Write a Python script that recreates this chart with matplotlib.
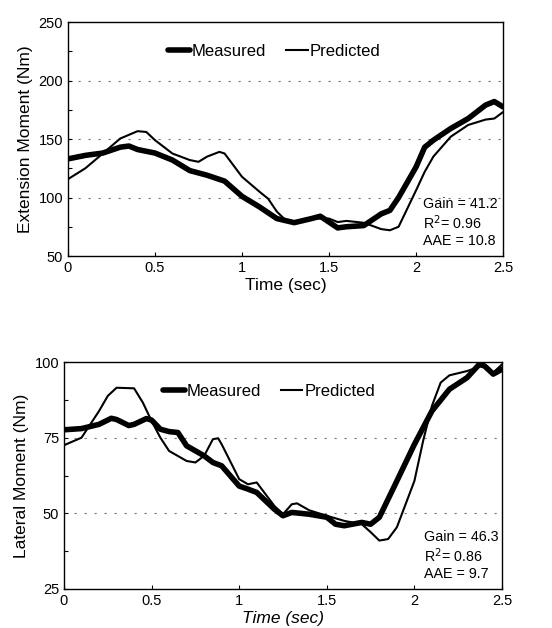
import matplotlib
matplotlib.use("Agg")
import matplotlib.pyplot as plt
from matplotlib.ticker import MultipleLocator

plt.rcParams['font.family'] = ['Liberation Sans', 'DejaVu Sans']

# ---- Top panel: extension moment ----
t_ext_meas = [0, 0.1, 0.2, 0.3, 0.35, 0.4, 0.5, 0.6, 0.7, 0.8, 0.9, 1.0, 1.1, 1.2, 1.3,
              1.4, 1.45, 1.5, 1.55, 1.6, 1.7, 1.8, 1.85, 1.9, 2.0, 2.05, 2.1, 2.2, 2.3,
              2.4, 2.45, 2.5]
ext_meas = [133, 136, 138, 143, 144, 141, 138, 132, 123, 119, 114, 101, 92, 82, 78.5,
            82, 84, 79, 74, 75, 76, 86, 89, 100, 126, 143, 149, 159, 167.5,
            179, 182, 177.5]
t_ext_pred = [0, 0.1, 0.2, 0.3, 0.4, 0.45, 0.5, 0.6, 0.7, 0.75, 0.8, 0.87, 0.9, 1.0,
              1.1, 1.15, 1.2, 1.25, 1.3, 1.4, 1.5, 1.55, 1.6, 1.7, 1.8, 1.85, 1.9,
              2.0, 2.05, 2.1, 2.2, 2.3, 2.4, 2.45, 2.5]
ext_pred = [115.7, 125, 137.6, 150.4, 156.7, 156, 149, 137.6, 132, 130.5, 135, 139, 137.6,
            117.7, 105, 99, 88, 80.7, 78.4, 82, 82, 79, 80, 78.4, 73, 72, 75,
            106, 122, 135, 152, 162, 166.6, 167.5, 173]

# ---- Bottom panel: lateral moment ----
t_lat_meas = [0, 0.1, 0.2, 0.27, 0.3, 0.37, 0.4, 0.47, 0.5, 0.55, 0.6, 0.65, 0.7, 0.8,
              0.85, 0.9, 1.0, 1.05, 1.1, 1.2, 1.25, 1.3, 1.4, 1.5, 1.55, 1.6, 1.7,
              1.75, 1.8, 1.9, 2.0, 2.1, 2.2, 2.3, 2.37, 2.4, 2.45, 2.5]
lat_meas = [77.6, 78, 79.4, 81.4, 81, 79, 79.4, 81.3, 80.8, 77.8, 77, 76.7, 72.3, 69,
            66.8, 65.7, 59, 58, 56.9, 51.4, 49.2, 50.3, 49.7, 48.7, 46.4, 45.9, 47,
            46.4, 48.7, 60.7, 72.8, 83.8, 91, 94.8, 99.2, 98.7, 96, 97.6]
t_lat_pred = [0, 0.1, 0.2, 0.25, 0.3, 0.4, 0.45, 0.5, 0.55, 0.6, 0.7, 0.75, 0.8, 0.85,
              0.88, 0.9, 1.0, 1.05, 1.1, 1.2, 1.25, 1.3, 1.33, 1.4, 1.5, 1.6, 1.7,
              1.75, 1.8, 1.85, 1.9, 2.0, 2.05, 2.1, 2.15, 2.2, 2.3, 2.35, 2.4, 2.45, 2.5]
lat_pred = [72.5, 75, 83.8, 88.8, 91.5, 91.3, 86.6, 80.5, 75, 70.6, 67.3, 66.8, 69, 74.5,
            74.8, 72.8, 61.3, 59.6, 60.2, 52.5, 49.7, 53, 53.3, 51, 49.2, 47.5, 46.4,
            43.8, 41, 41.5, 45.4, 60.7, 74, 85.5, 93.2, 95.6, 97, 98, 99.2, 96.5, 99.2]

x_ticks = [0, 0.5, 1, 1.5, 2, 2.5]
x_tick_labels = ['0', '0.5', '1', '1.5', '2', '2.5']

fig = plt.figure(figsize=(5.52, 6.28), dpi=100)
W, H = 552, 628
ax1 = fig.add_axes([68 / W, 1 - 256 / H, (503 - 68) / W, (256 - 22) / H])
ax2 = fig.add_axes([64 / W, 1 - 589 / H, (502 - 64) / W, (589 - 362) / H])


def style(ax, ylim, ystep, grid_vals, ylabel, xlabel_style, stats, sx, lx):
    ax.set_xlim(0, 2.5)
    ax.set_ylim(*ylim)
    ax.set_xticks(x_ticks)
    ax.set_xticklabels(x_tick_labels)
    ax.yaxis.set_major_locator(MultipleLocator(ystep))
    ax.yaxis.set_minor_locator(MultipleLocator(ystep / 2))
    ax.tick_params(axis='both', which='major', labelsize=10.5, length=3,
                   direction='in', width=0.8)
    ax.tick_params(axis='y', which='minor', length=3, direction='in', width=0.8)
    for g in grid_vals:
        ax.axhline(g, color='#777777', lw=0.8, ls=(0, (2, 7)), zorder=0)
    for s in ax.spines.values():
        s.set_linewidth(1.0)
    ax.set_ylabel(ylabel, fontsize=12.5, labelpad=4)
    ax.set_xlabel('Time (sec)', fontsize=12.5, style=xlabel_style, labelpad=2)
    ax.text(sx, 0.035, stats, transform=ax.transAxes, ha='left', va='bottom',
            fontsize=10.3, linespacing=1.15)
    ax.legend(loc='upper center', bbox_to_anchor=(lx, 0.97), ncol=2, frameon=False,
              fontsize=12, handlelength=1.3, handletextpad=0.1, columnspacing=1.2)


ax1.plot(t_ext_meas, ext_meas, color='black', lw=4, label='Measured',
         solid_capstyle='round', solid_joinstyle='round')
ax1.plot(t_ext_pred, ext_pred, color='black', lw=1.5, label='Predicted',
         solid_joinstyle='round')
style(ax1, (50, 250), 50, [100, 150, 200], 'Extension Moment (Nm)', 'normal',
      'Gain = 41.2\nR$^2$= 0.96\nAAE = 10.8', 0.815, 0.474)

ax2.plot(t_lat_meas, lat_meas, color='black', lw=4, label='Measured',
         solid_capstyle='round', solid_joinstyle='round')
ax2.plot(t_lat_pred, lat_pred, color='black', lw=1.5, label='Predicted',
         solid_joinstyle='round')
style(ax2, (25, 100), 25, [50, 75], 'Lateral Moment (Nm)', 'italic',
      'Gain = 46.3\nR$^2$= 0.86\nAAE = 9.7', 0.822, 0.468)

fig.savefig('out.png', dpi=100)
